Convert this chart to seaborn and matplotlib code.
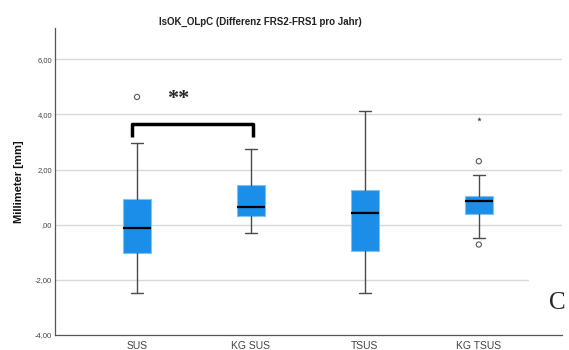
import matplotlib
matplotlib.use("Agg")
import matplotlib.pyplot as plt
import seaborn as sns
import pandas as pd
from matplotlib.ticker import FixedLocator, FuncFormatter

sns.set_theme(style="white")
plt.rcParams['font.family'] = ['Liberation Sans', 'DejaVu Sans']

# ---- data ----
categories = ["SUS", "KG SUS", "TSUS", "KG TSUS"]
whisker_low = [-2.48, -0.29, -2.46, -0.50]
q1 = [-1.03, 0.30, -0.95, 0.40]
median = [-0.13, 0.64, 0.42, 0.84]
q3 = [0.93, 1.42, 1.25, 1.05]
whisker_high = [2.95, 2.74, 4.12, 1.81]
outlier_cat = ["SUS", "KG TSUS", "KG TSUS"]
outlier_val = [4.63, 2.30, -0.72]
extreme_cat = ["KG TSUS"]
extreme_val = [3.84]
yticks = [-4, -2, 0, 2, 4, 6]
title = "IsOK_OLpC (Differenz FRS2-FRS1 pro Jahr)"
ylabel = "Millimeter [mm]"
sig_pair = ("SUS", "KG SUS")
sig_label = "**"
panel_label = "C"

fig = plt.figure(figsize=(5.69, 3.5), dpi=100)
ax = fig.add_axes([55/569, 1-335/350, (562-55)/569, (335-28)/350])

stats = []
for i, c in enumerate(categories):
    stats.append(dict(label=c, whislo=whisker_low[i], q1=q1[i], med=median[i],
                      q3=q3[i], whishi=whisker_high[i], fliers=[]))
pos = list(range(len(categories)))
ax.bxp(stats, positions=pos, widths=0.25, capwidths=0.11, showfliers=False,
       patch_artist=True,
       boxprops=dict(facecolor="#1a8ee8", edgecolor="#80c2f2", linewidth=0.8),
       medianprops=dict(color="black", linewidth=1.6),
       whiskerprops=dict(color="#4a4a4a", linewidth=1.0),
       capprops=dict(color="#4a4a4a", linewidth=1.0), zorder=3)

cat_index = {c: i for i, c in enumerate(categories)}
df_out = pd.DataFrame({"x": [cat_index[c] for c in outlier_cat], "y": outlier_val})
sns.scatterplot(data=df_out, x="x", y="y", ax=ax, marker="o", s=14,
                facecolor="none", edgecolor="#555555", linewidth=0.8, zorder=4)
df_ext = pd.DataFrame({"x": [cat_index[c] for c in extreme_cat], "y": extreme_val})
sns.scatterplot(data=df_ext, x="x", y="y", ax=ax, marker="*", s=12,
                color="#444444", linewidth=0, zorder=4)

ax.set_xlim(-0.72, 3.73)
ax.set_ylim(-4, 7.13)
ax.yaxis.set_major_locator(FixedLocator(yticks))
ax.yaxis.set_major_formatter(FuncFormatter(
    lambda v, p: ",00" if v == 0 else ("%.2f" % v).replace(".", ",")))
ax.set_xticks(pos)
ax.set_xticklabels(categories)
for y in yticks[1:]:
    ax.axhline(y, color="#d9d9d9", linewidth=1.0, zorder=1)
ax.tick_params(axis="y", length=0, labelsize=5.5, labelcolor="#444444", pad=2)
ax.tick_params(axis="x", length=0, labelsize=7.5, labelcolor="#444444", pad=4)
for s in ["top", "right"]:
    ax.spines[s].set_visible(False)
for s in ["left", "bottom"]:
    ax.spines[s].set_color("#555555")
    ax.spines[s].set_linewidth(0.9)
ax.set_xlabel("")
ax.set_ylabel(ylabel, fontsize=8, fontweight="bold", color="#111111", labelpad=8)

fig.text(260/569, 1-22/350, title, ha="center", va="center", fontsize=7,
         fontweight="bold", color="#222222")

# significance bracket
x0, x1 = cat_index[sig_pair[0]] - 0.04, cat_index[sig_pair[1]] + 0.02
ax.plot([x0, x0, x1, x1], [3.17, 3.64, 3.64, 3.17], color="black", linewidth=2.5,
        solid_joinstyle="round", solid_capstyle="butt", zorder=5)
ax.text(0.36, 4.55, sig_label, ha="center", va="center", fontsize=16,
        fontweight="bold", family=["Liberation Serif", "DejaVu Serif"])

fig.text(557/569, 1-303/350, panel_label, ha="center", va="center", fontsize=18,
         family=["Liberation Serif", "DejaVu Serif"],
         bbox=dict(facecolor="white", edgecolor="none", pad=14))

fig.savefig("out.png", dpi=100)
